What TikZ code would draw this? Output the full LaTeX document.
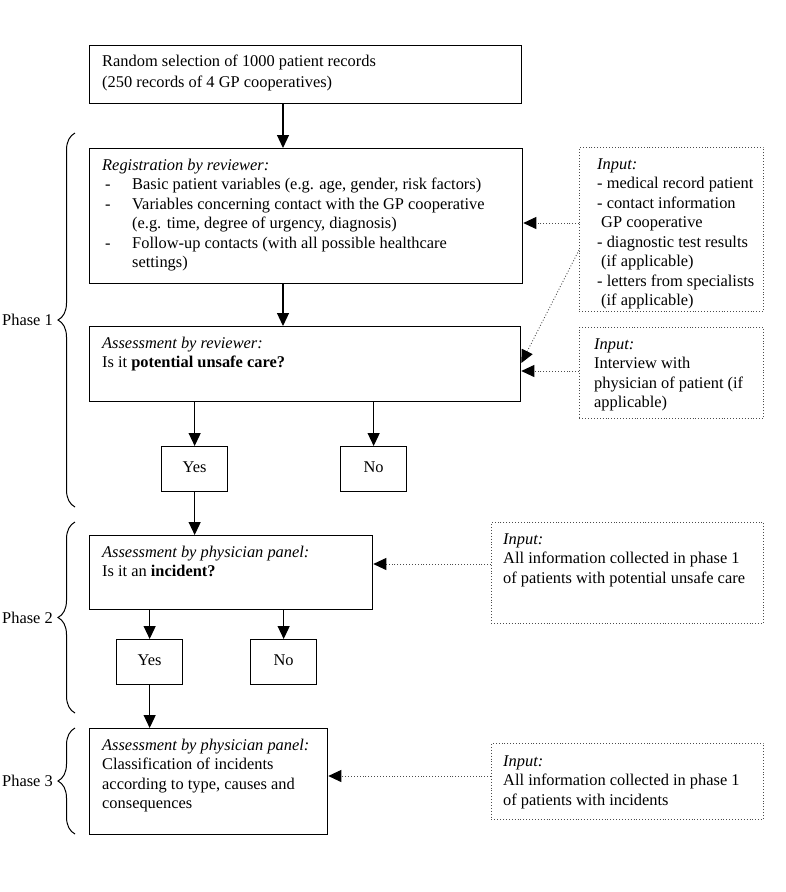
\documentclass[tikz,border=0pt]{standalone}
\usepackage{fontspec}
\setmainfont{Liberation Serif}
\usetikzlibrary{arrows.meta,decorations.pathreplacing,calc}
\begin{document}
\begin{tikzpicture}[x=1pt,y=-1pt,
  box/.style={draw, line width=1.3pt, rectangle, inner sep=0pt, anchor=north west},
  inbox/.style={draw=black!70, dotted, line width=0.9pt, rectangle, inner sep=0pt, anchor=north west},
  txt/.style={inner sep=0pt, anchor=north west, align=left, font=\fontsize{16.4}{19.5}\selectfont},
  yn/.style={draw, line width=1.3pt, rectangle, minimum width=66pt, minimum height=45pt, inner sep=0pt, anchor=north west, font=\fontsize{16.4}{19.5}\selectfont},
  arr/.style={line width=1.2pt, -{Triangle[length=13pt,width=12pt]}},
  darr/.style={draw=black!70, dotted, line width=0.9pt, -{Triangle[length=13pt,width=12pt,color=black]}},
  brc/.style={decorate, decoration={brace, amplitude=17pt}, line width=1pt},
  ph/.style={anchor=east, inner sep=0pt, font=\fontsize{16.4}{19.5}\selectfont}
]
\useasboundingbox (0,0) rectangle (785,892);

% boxes
\node[box, minimum width=432pt, minimum height=58pt] (top) at (89,45) {};
\node[box, minimum width=433pt, minimum height=135pt] (reg) at (89,148) {};
\node[box, minimum width=431pt, minimum height=75pt] (ass1) at (89,326) {};
\node[inbox, minimum width=184pt, minimum height=164pt] (in1) at (579,147) {};
\node[inbox, minimum width=184pt, minimum height=91pt] (in2) at (579,327) {};
\node[yn] (yes1) at (161,446) {\raisebox{4pt}{Yes}};
\node[yn] (no1) at (340,446) {\raisebox{4pt}{No}};
\node[box, minimum width=283pt, minimum height=74pt] (ph2) at (89,535) {};
\node[inbox, minimum width=272pt, minimum height=101pt] (in3) at (491,522) {};
\node[yn] (yes2) at (116,639) {\raisebox{4pt}{Yes}};
\node[yn] (no2) at (250,639) {\raisebox{4pt}{No}};
\node[box, minimum width=238pt, minimum height=106pt] (ph3) at (89,728) {};
\node[inbox, minimum width=272pt, minimum height=76pt] (in4) at (491,743) {};

% texts
\node[txt, font=\fontsize{16.4}{21}\selectfont] (toptxt) at (102,51.3) {\strut Random selection of 1000 patient records\\(250 records of 4 GP cooperatives)};
\node[txt] (regtxt) at (102,156.35) {\strut\textit{Registration by reviewer:}\\
\hspace*{3pt}\makebox[27pt][l]{-}Basic patient variables (e.g. age, gender, risk factors)\\
\hspace*{3pt}\makebox[27pt][l]{-}Variables concerning contact with the GP cooperative\\
\hspace*{30pt}(e.g. time, degree of urgency, diagnosis)\\
\hspace*{3pt}\makebox[27pt][l]{-}Follow-up contacts (with all possible healthcare\\
\hspace*{30pt}settings)};
\node[txt] (ass1txt) at (102,334.35) {\strut\textit{Assessment by reviewer:}\\Is it \textbf{potential unsafe care?}};
\node[txt] (in1txt) at (597,155.35) {\strut\textit{Input:}\\- medical record patient\\- contact information\\\hspace*{4pt}GP cooperative\\- diagnostic test results\\\hspace*{4pt}(if applicable)\\- letters from specialists\\\hspace*{4pt}(if applicable)};
\node[txt] (in2txt) at (594,335.35) {\strut\textit{Input:}\\Interview with\\physician of patient (if\\applicable)};
\node[txt] (ph2txt) at (102,543.35) {\strut\textit{Assessment by physician panel:}\\Is it an \textbf{incident?}};
\node[txt] (in3txt) at (503,530.35) {\strut\textit{Input:}\\All information collected in phase 1\\of patients with potential unsafe care};
\node[txt] (ph3txt) at (102,736.35) {\strut\textit{Assessment by physician panel:}\\Classification of incidents\\according to type, causes and\\consequences};
\node[txt] (in4txt) at (503,752.35) {\strut\textit{Input:}\\All information collected in phase 1\\of patients with incidents};

% solid connectors
\draw[arr] ([xshift=194pt]top.south west) -- ([xshift=194pt]reg.north west);
\draw[arr] ([xshift=194pt]reg.south west) -- ([xshift=194pt]ass1.north west);
\draw[arr] (yes1.north |- ass1.south) -- (yes1.north);
\draw[arr] (no1.north |- ass1.south) -- (no1.north);
\draw[arr] (yes1.south) -- (yes1.south |- ph2.north);
\draw[arr] (yes2.north |- ph2.south) -- (yes2.north);
\draw[arr] (no2.north |- ph2.south) -- (no2.north);
\draw[arr] (yes2.south) -- (yes2.south |- ph3.north);

% dotted connectors
\coordinate (c1) at ([yshift=-76pt]in1.north west);
\draw[darr] (c1) -- (c1 -| reg.east);
\coordinate (c2) at ([yshift=-44pt]in2.north west);
\draw[darr] (c2) -- (c2 -| ass1.east);
\draw[darr] ([yshift=-103pt]in1.north west) -- ([yshift=-37pt]ass1.north east);
\coordinate (c3) at ([yshift=-42pt]in3.north west);
\draw[darr] (c3) -- (c3 -| ph2.east);
\coordinate (c4) at ([yshift=-33pt]in4.north west);
\draw[darr] (c4) -- (c4 -| ph3.east);

% braces
\draw[brc] (75,507) -- (75,133);
\draw[brc] (75,713) -- (75,522);
\draw[brc] (75,834) -- (75,728);
\node[ph] (p1) at (53,320) {Phase 1};
\node[ph] (p2) at (53,617.5) {Phase 2};
\node[ph] (p3) at (53,781) {Phase 3};
\end{tikzpicture}
\end{document}
